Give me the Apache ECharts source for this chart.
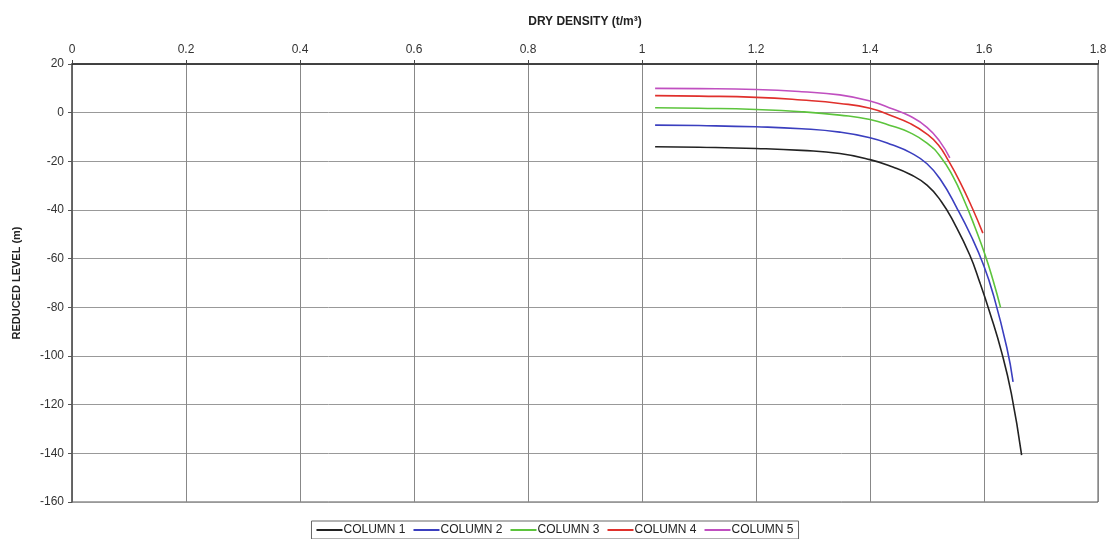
<!DOCTYPE html>
<html>
<head>
<meta charset="utf-8">
<script src="https://cdn.jsdelivr.net/npm/echarts@6/dist/echarts.min.js"></script>
<style>html,body{margin:0;padding:0;background:#fff}#c{width:1110px;height:539px}</style>
</head>
<body>
<div id="c"></div>
<script>
const seriesNames = ['COLUMN 1','COLUMN 2','COLUMN 3','COLUMN 4','COLUMN 5'];
const seriesColors = ['#222222','#3b3fbf','#5cc43c','#e0302c','#c04fc0'];
const col1 = [[1.023,-14.0],[1.1,-14.2],[1.2,-14.7],[1.28,-15.5],[1.347,-16.8],[1.4,-19.3],[1.44,-22.3],[1.47,-25.3],[1.5,-29.8],[1.525,-36.5],[1.548,-45.5],[1.575,-58.5],[1.593,-70.0],[1.61,-82.0],[1.631,-98.5],[1.648,-115.5],[1.666,-140.7]];
const col2 = [[1.023,-5.1],[1.1,-5.3],[1.2,-5.8],[1.28,-6.6],[1.347,-8.0],[1.4,-10.3],[1.44,-13.3],[1.47,-16.3],[1.5,-21.0],[1.525,-28.0],[1.552,-39.0],[1.578,-51.0],[1.599,-62.5],[1.616,-74.5],[1.64,-96.5],[1.651,-110.6]];
const col3 = [[1.023,2.0],[1.1,1.8],[1.2,1.3],[1.28,0.4],[1.347,-1.0],[1.4,-2.8],[1.44,-5.6],[1.47,-8.2],[1.5,-12.5],[1.523,-17.9],[1.545,-26.0],[1.566,-36.5],[1.584,-47.0],[1.602,-58.5],[1.616,-69.0],[1.629,-80.0]];
const col4 = [[1.023,7.0],[1.1,6.8],[1.2,6.3],[1.28,5.2],[1.347,3.8],[1.4,1.8],[1.44,-1.5],[1.47,-4.4],[1.5,-8.8],[1.52,-13.3],[1.537,-19.5],[1.558,-28.5],[1.58,-39.5],[1.598,-49.5]];
const col5 = [[1.023,10.0],[1.1,9.9],[1.2,9.5],[1.28,8.6],[1.347,7.3],[1.4,4.8],[1.44,1.5],[1.47,-1.4],[1.5,-6.0],[1.523,-12.0],[1.54,-18.6]];
const allData = [col1,col2,col3,col4,col5];

const chart = echarts.init(document.getElementById('c'));
const fontFam = 'Liberation Sans, Arial, sans-serif';
chart.setOption({
  animation:false,
  backgroundColor:'#fff',
  grid:{left:72,right:12,top:64,bottom:37,show:true,borderColor:'#555',borderWidth:1},
  legend:{
    bottom:0,left:'center',
    itemWidth:26,itemHeight:2,itemGap:8,
    padding:[3,5,3,5],
    borderColor:'#666',borderWidth:1,
    icon:'rect',
    textStyle:{fontSize:12,color:'#222',fontFamily:fontFam,padding:[0,0,0,-4]},
    data:seriesNames
  },
  xAxis:{
    type:'value',position:'top',min:0,max:1.8,interval:0.2,
    name:'DRY DENSITY (t/m³)',nameLocation:'middle',nameGap:36,
    nameTextStyle:{fontSize:12,fontWeight:'bold',color:'#222',fontFamily:fontFam},
    axisLine:{show:true,onZero:false,lineStyle:{color:'#222',width:1.5}},
    axisTick:{show:true,length:4,lineStyle:{color:'#444'}},
    axisLabel:{fontSize:12,color:'#333',fontFamily:fontFam,margin:8,formatter:v=>String(+v.toFixed(1))},
    splitLine:{show:true,lineStyle:{color:'#888',width:1}}
  },
  yAxis:{
    type:'value',min:-160,max:20,interval:20,
    name:'REDUCED LEVEL (m)',nameLocation:'middle',nameGap:50,nameRotate:90,
    nameTextStyle:{fontSize:11,fontWeight:'bold',color:'#222',fontFamily:fontFam},
    axisLine:{show:true,onZero:false,lineStyle:{color:'#555',width:1.5}},
    axisTick:{show:true,length:4,lineStyle:{color:'#555'}},
    axisLabel:{fontSize:12,color:'#333',fontFamily:fontFam,margin:8},
    splitLine:{show:true,lineStyle:{color:'#999',width:1}}
  },
  series: allData.map((d,i)=>({
    name:seriesNames[i],type:'line',data:d,smooth:0.5,showSymbol:false,symbol:'none',
    lineStyle:{color:seriesColors[i],width:1.6},itemStyle:{color:seriesColors[i]}
  }))
});
</script>
</body>
</html>
